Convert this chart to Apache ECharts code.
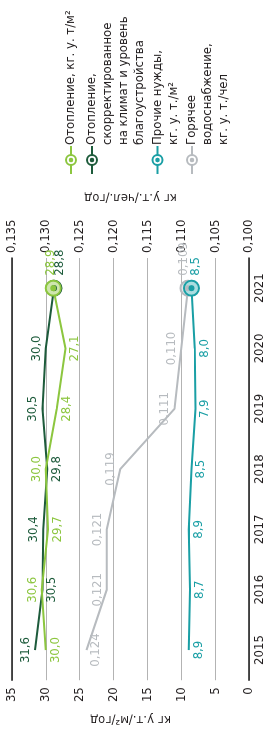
<!DOCTYPE html>
<html>
  <head>
    <title></title>
    <meta charset="UTF-8" />
    <script src="https://cdn.jsdelivr.net/npm/echarts@6/dist/echarts.min.js"></script>
    <style>
      html, body { margin: 0; padding: 0; overflow: hidden; background: #fff; }
      /* chart is drawn landscape and turned 90deg counter-clockwise */
      #main {
        position: absolute; left: 0; top: 0;
        width: 734px; height: 266px;
        transform-origin: 0 0;
        transform: translate(0, 734px) rotate(-90deg);
      }
    </style>
  </head>
  <body>
    <div id="main"></div>
    <script>
      const years = ['2015', '2016', '2017', '2018', '2019', '2020', '2021'];
      const heating = [30.0, 30.6, 29.7, 30.0, 28.4, 27.1, 28.9];
      const heatingAdj = [31.6, 30.5, 30.4, 29.8, 30.5, 30.0, 28.8];
      const otherNeeds = [8.9, 8.7, 8.9, 8.5, 7.9, 8.0, 8.5];
      const hotWater = [0.124, 0.121, 0.121, 0.119, 0.111, 0.110, 0.109];

      const leftMin = 0, leftMax = 35, leftStep = 5;
      const rightMin = 0.1, rightMax = 0.135, rightStep = 0.005;

      const names = [
        'Отопление, кг. у. т/м²',
        'Отопление, скорректированное на климат и уровень благоустройства',
        'Прочие нужды, кг. у. т./м²',
        'Горячее водоснабжение, кг. у. т./чел'
      ];
      const legendLines = [
        ['Отопление, кг. у. т/м²'],
        ['Отопление,', 'скорректированное', 'на климат и уровень', 'благоустройства'],
        ['Прочие нужды,', 'кг. у. т./м²'],
        ['Горячее', 'водоснабжение,', 'кг. у. т./чел']
      ];

      // where each value label sits
      const heatingPos = ['bottom', 'top', 'bottom', 'top', 'bottom', 'bottom', 'right'];
      const heatingAdjPos = ['top', 'bottom', 'top', 'bottom', 'top', 'top', 'right'];
      const otherPos = ['bottom', 'bottom', 'bottom', 'bottom', 'bottom', 'bottom', 'right'];
      const hotWaterPos = ['bottom', 'top', 'top', 'top', 'top', 'top', 'right'];

      const colors = ['#8cc63f', '#1d5b3b', '#1a9fa5', '#b7bbbf'];
      const tints = ['#cfe6ae', '#9bb9a8', '#aadde0', '#e6e8ea'];
      const font = "'Liberation Sans Narrow', 'DejaVu Sans Condensed', sans-serif";
      const textColor = '#231f20';

      const last = years.length - 1;
      const comma = (v, d) => v.toFixed(d).replace('.', ',');

      function makeSeries(i, values, pos, digits, axis, labelShift, z) {
        return {
          name: names[i],
          type: 'line',
          yAxisIndex: axis,
          z: z,
          color: colors[i],
          lineStyle: { width: 2, color: colors[i] },
          symbol: 'circle',
          symbolSize: (v, p) => (p.dataIndex === last ? 15 : 0),
          showAllSymbol: true,
          data: values.map((v, k) => ({
            value: v,
            itemStyle: k === last ? { color: tints[i], borderColor: colors[i], borderWidth: 2 } : undefined,
            label: {
              position: pos[k],
              distance: pos[k] === 'right' ? 4 : 3,
              offset: pos[k] === 'right' ? labelShift : [0, 0]
            }
          })),
          label: {
            show: true,
            color: colors[i],
            fontFamily: font,
            fontSize: 13,
            formatter: p => comma(p.value, digits)
          },
          markPoint: {
            silent: true,
            symbol: 'circle',
            symbolSize: 6,
            itemStyle: { color: colors[i] },
            label: { show: false },
            data: [{ coord: [years[last], values[last]] }]
          }
        };
      }

      // legend: text from the legend component, key marks drawn as graphics
      const lineH = 16;
      const legendY = [71, 92, 157.5, 192];
      const keyX = 574;
      const legends = legendLines.map((lines, i) => ({
        orient: 'vertical',
        left: 555,
        top: legendY[i] - (2 * lines.length - 1) * lineH / 2,
        padding: 0,
        itemWidth: 29,
        itemHeight: 12,
        selectedMode: false,
        textStyle: { fontFamily: font, fontSize: 13, lineHeight: lineH, color: textColor },
        formatter: () => '\n'.repeat(lines.length - 1) + lines.join('\n'),
        data: [{ name: names[i], icon: 'rect', itemStyle: { color: 'rgba(0,0,0,0)', borderWidth: 0 } }]
      }));
      const keys = [];
      legendY.forEach((y, i) => {
        keys.push(
          { type: 'line', z: 10, shape: { x1: keyX - 14, y1: y, x2: keyX + 14, y2: y }, style: { stroke: colors[i], lineWidth: 2 } },
          { type: 'circle', z: 11, shape: { cx: keyX, cy: y, r: 5 }, style: { fill: '#fff', stroke: colors[i], lineWidth: 2 } },
          { type: 'circle', z: 12, shape: { cx: keyX, cy: y, r: 2.3 }, style: { fill: colors[i] } }
        );
      });

      const main = document.getElementById('main');
      const myChart = echarts.init(main);
      const option = {
        animation: false,
        legend: legends,
        graphic: keys,
        grid: { left: 41, right: 258, top: 12, bottom: 16 },
        xAxis: [
          {
            type: 'category',
            data: years,
            boundaryGap: true,
            axisTick: { show: false },
            axisLine: { lineStyle: { color: '#1a1a1a', width: 1.5 } },
            axisLabel: { color: textColor, fontFamily: font, fontSize: 13, margin: 4 }
          },
          {
            type: 'category',
            data: years,
            position: 'top',
            axisTick: { show: false },
            axisLabel: { show: false },
            axisLine: { lineStyle: { color: '#1a1a1a', width: 1.5 } }
          }
        ],
        yAxis: [
          {
            type: 'value',
            min: leftMin, max: leftMax, interval: leftStep,
            name: 'кг у.т./м²/год',
            nameLocation: 'middle',
            nameGap: 22,
            nameTextStyle: { color: textColor, fontFamily: font, fontSize: 13 },
            axisLine: { show: false },
            axisTick: { show: false },
            axisLabel: { color: textColor, fontFamily: font, fontSize: 13, margin: 7 },
            splitLine: { lineStyle: { color: '#b3b3b3', width: 1.2 } }
          },
          {
            type: 'value',
            min: rightMin, max: rightMax, interval: rightStep,
            name: 'кг у.т./чел./год',
            nameLocation: 'middle',
            nameGap: 54,
            nameTextStyle: { color: textColor, fontFamily: font, fontSize: 13 },
            axisLine: { show: false },
            axisTick: { show: false },
            axisLabel: {
              color: textColor, fontFamily: font, fontSize: 13, margin: 5,
              formatter: v => comma(v, 3)
            },
            splitLine: { show: false }
          }
        ],
        series: [
          makeSeries(1, heatingAdj, heatingAdjPos, 1, 0, [0, 6], 2),
          makeSeries(0, heating, heatingPos, 1, 0, [0, -3], 3),
          makeSeries(3, hotWater, hotWaterPos, 3, 1, [0, -4], 2),
          makeSeries(2, otherNeeds, otherPos, 1, 0, [0, 4], 3)
        ]
      };
      myChart.setOption(option);
    </script>
  </body>
</html>
